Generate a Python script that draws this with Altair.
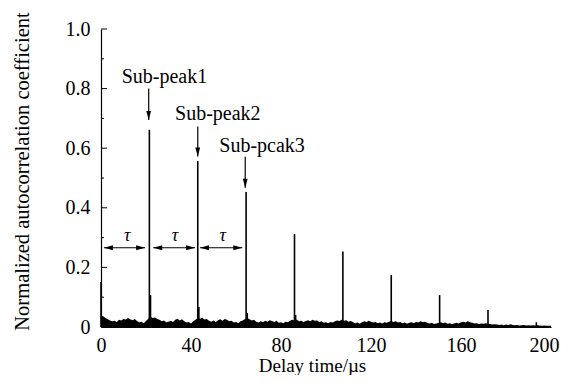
import altair as alt
import pandas as pd

FONT = "Liberation Serif"

# ---- data ----
noise_t = list(range(0, 201))
noise_v = [
    0.040, 0.036, 0.030, 0.026, 0.022, 0.019, 0.021, 0.017, 0.024, 0.022,
    0.027, 0.025, 0.030, 0.026, 0.023, 0.027, 0.020, 0.016, 0.018, 0.013,
    0.020, 0.028, 0.034, 0.030, 0.032, 0.027, 0.024, 0.019, 0.022, 0.016,
    0.018, 0.021, 0.017, 0.024, 0.028, 0.022, 0.026, 0.019, 0.015, 0.017,
    0.012, 0.019, 0.024, 0.030, 0.028, 0.031, 0.025, 0.027, 0.021, 0.018,
    0.022, 0.017, 0.023, 0.026, 0.021, 0.027, 0.024, 0.019, 0.021, 0.015,
    0.017, 0.013, 0.019, 0.022, 0.027, 0.030, 0.026, 0.022, 0.024, 0.018,
    0.015, 0.019, 0.016, 0.021, 0.018, 0.023, 0.020, 0.017, 0.021, 0.014,
    0.016, 0.013, 0.018, 0.016, 0.021, 0.024, 0.022, 0.025, 0.019, 0.021,
    0.017, 0.020, 0.023, 0.019, 0.024, 0.021, 0.022, 0.017, 0.019, 0.014,
    0.016, 0.013, 0.017, 0.015, 0.019, 0.022, 0.020, 0.024, 0.021, 0.023,
    0.018, 0.020, 0.016, 0.013, 0.015, 0.011, 0.016, 0.019, 0.017, 0.021,
    0.018, 0.015, 0.017, 0.013, 0.015, 0.012, 0.016, 0.014, 0.018, 0.020,
    0.017, 0.019, 0.015, 0.017, 0.013, 0.015, 0.011, 0.014, 0.016, 0.013,
    0.017, 0.015, 0.019, 0.016, 0.018, 0.014, 0.012, 0.014, 0.010, 0.012,
    0.014, 0.016, 0.013, 0.015, 0.011, 0.013, 0.010, 0.012, 0.014, 0.012,
    0.016, 0.018, 0.015, 0.019, 0.016, 0.014, 0.012, 0.013, 0.010, 0.012,
    0.011, 0.013, 0.011, 0.010, 0.008, 0.009, 0.008, 0.007, 0.008, 0.006,
    0.008, 0.007, 0.009, 0.007, 0.006, 0.007, 0.005, 0.006, 0.007, 0.005,
    0.006, 0.005, 0.006, 0.005, 0.006, 0.005, 0.004, 0.005, 0.004, 0.004,
    0.004,
]

peak_t = [0.0, 21.5, 43.0, 64.5, 86.0, 107.5, 129.0, 150.5, 172.0, 193.5]
peak_v = [0.151, 0.662, 0.557, 0.453, 0.312, 0.253, 0.175, 0.107, 0.057, 0.016]

side_t = [22.0, 43.5, 65.0, 86.5]
side_v = [0.107, 0.067, 0.047, 0.040]

label_text = ["Sub-peak1", "Sub-peak2", "Sub-pcak3"]
label_t = [28.2, 51.9, 71.6]
label_v = [0.818, 0.695, 0.588]

arrow_t = [21.2, 43.0, 64.1]
arrow_top = [0.800, 0.673, 0.571]
arrow_tip = [0.695, 0.572, 0.467]

tau_start = [1.3, 23.2, 44.0]
tau_end = [19.6, 41.8, 62.8]
tau_v = [0.266, 0.266, 0.266]
tau_label_t = [11.7, 32.9, 54.1]
tau_label_v = [0.29, 0.29, 0.29]

x_ticks = [0, 40, 80, 120, 160, 200]
y_major = [0, 0.2, 0.4, 0.6, 0.8, 1.0]
y_minor = [0.1, 0.3, 0.5, 0.7, 0.9]

# ---- tables ----
noise_df = pd.DataFrame({"t": noise_t, "v": noise_v})
peak_df = pd.DataFrame({"t": peak_t, "v": peak_v, "b": [0.0] * len(peak_t)})
side_df = pd.DataFrame({"t": side_t, "v": side_v, "b": [0.0] * len(side_t)})
label_df = pd.DataFrame({"t": label_t, "v": label_v, "s": label_text})
arrow_df = pd.DataFrame({"t": arrow_t, "top": arrow_top, "tip": arrow_tip})
tau_df = pd.DataFrame({"a": tau_start, "e": tau_end, "v": tau_v})
taul_df = pd.DataFrame({"t": tau_label_t, "v": tau_label_v, "s": ["τ"] * 3})
ymaj_df = pd.DataFrame({"v": y_major})
ymin_df = pd.DataFrame({"v": y_minor})

X = alt.Scale(domain=[0, 200], nice=False, zero=False)
Y = alt.Scale(domain=[0, 1], nice=False, zero=False)

x_axis = alt.Axis(values=x_ticks, title="Delay time/µs", ticks=False, grid=False,
                  labelPadding=8, titleX=211, titleY=44, titleBaseline="alphabetic",
                  labelFlush=False, titleFontSize=19,
                  labelOffset={"condition": {"test": "datum.value == 200", "value": -7},
                               "value": 0})
y_axis = alt.Axis(values=y_major, title="Normalized autocorrelation coefficient",
                  ticks=False, grid=False, labelPadding=11,
                  labelExpr="datum.value == 0 ? '0' : format(datum.value, '.1f')",
                  titleX=-73, titleY=142, titleAngle=270, titleBaseline="alphabetic",
                  titleFontSize=20.5)

floor = alt.Chart(noise_df).mark_area(color="black", opacity=1).encode(
    x=alt.X("t:Q", scale=X, axis=x_axis),
    y=alt.Y("v:Q", scale=Y, axis=y_axis),
)

peaks = alt.Chart(peak_df).mark_rule(color="black", strokeWidth=1.6).encode(
    x=alt.X("t:Q", scale=X), y=alt.Y("b:Q", scale=Y), y2="v:Q")

sides = alt.Chart(side_df).mark_rule(color="black", strokeWidth=1.6).encode(
    x=alt.X("t:Q", scale=X), y=alt.Y("b:Q", scale=Y), y2="v:Q")

labels = alt.Chart(label_df).mark_text(font=FONT, fontSize=20, baseline="alphabetic",
                                       align="center", color="black").encode(
    x=alt.X("t:Q", scale=X), y=alt.Y("v:Q", scale=Y), text="s:N")

shafts = alt.Chart(arrow_df).mark_rule(color="black", strokeWidth=1.2).encode(
    x=alt.X("t:Q", scale=X), y=alt.Y("top:Q", scale=Y), y2="tip:Q")

heads = alt.Chart(arrow_df).mark_point(shape="M-0.8,-3L0.8,-3L0,0Z", size=36, filled=True,
                                       color="black", opacity=1, strokeWidth=0).encode(
    x=alt.X("t:Q", scale=X), y=alt.Y("tip:Q", scale=Y))

tau_lines = alt.Chart(tau_df).mark_rule(color="black", strokeWidth=1.2).encode(
    x=alt.X("a:Q", scale=X), x2="e:Q", y=alt.Y("v:Q", scale=Y))

tau_left = alt.Chart(tau_df).mark_point(shape="M0,0L3,-0.8L3,0.8Z", size=36, filled=True,
                                        color="black", opacity=1, strokeWidth=0).encode(
    x=alt.X("a:Q", scale=X), y=alt.Y("v:Q", scale=Y))

tau_right = alt.Chart(tau_df).mark_point(shape="M0,0L-3,-0.8L-3,0.8Z", size=36, filled=True,
                                         color="black", opacity=1, strokeWidth=0).encode(
    x=alt.X("e:Q", scale=X), y=alt.Y("v:Q", scale=Y))

tau_text = alt.Chart(taul_df).mark_text(font=FONT, fontSize=18, fontStyle="italic",
                                        baseline="alphabetic", align="center",
                                        color="black").encode(
    x=alt.X("t:Q", scale=X), y=alt.Y("v:Q", scale=Y), text="s:N")

major_ticks = alt.Chart(ymaj_df).mark_rule(color="black", strokeWidth=1).encode(
    y=alt.Y("v:Q", scale=Y), x=alt.value(0), x2=alt.value(6))

minor_ticks = alt.Chart(ymin_df).mark_rule(color="black", strokeWidth=1).encode(
    y=alt.Y("v:Q", scale=Y), x=alt.value(0), x2=alt.value(3))

chart = alt.layer(
    floor, peaks, sides, shafts, heads, labels, tau_lines, tau_left, tau_right,
    tau_text, major_ticks, minor_ticks
).properties(
    width=450, height=298,
    autosize=alt.AutoSizeParams(type="none"),
    padding={"left": 93, "top": 21, "right": 10, "bottom": 48},
    background="white",
).configure_view(stroke=None).configure_axis(
    labelFont=FONT, titleFont=FONT, labelFontSize=20,
    labelColor="black", titleColor="black", titleFontWeight="normal",
    domainColor="black", domainWidth=1.2,
)

chart.save("out.html", embed_options={"renderer": "svg", "actions": False})
